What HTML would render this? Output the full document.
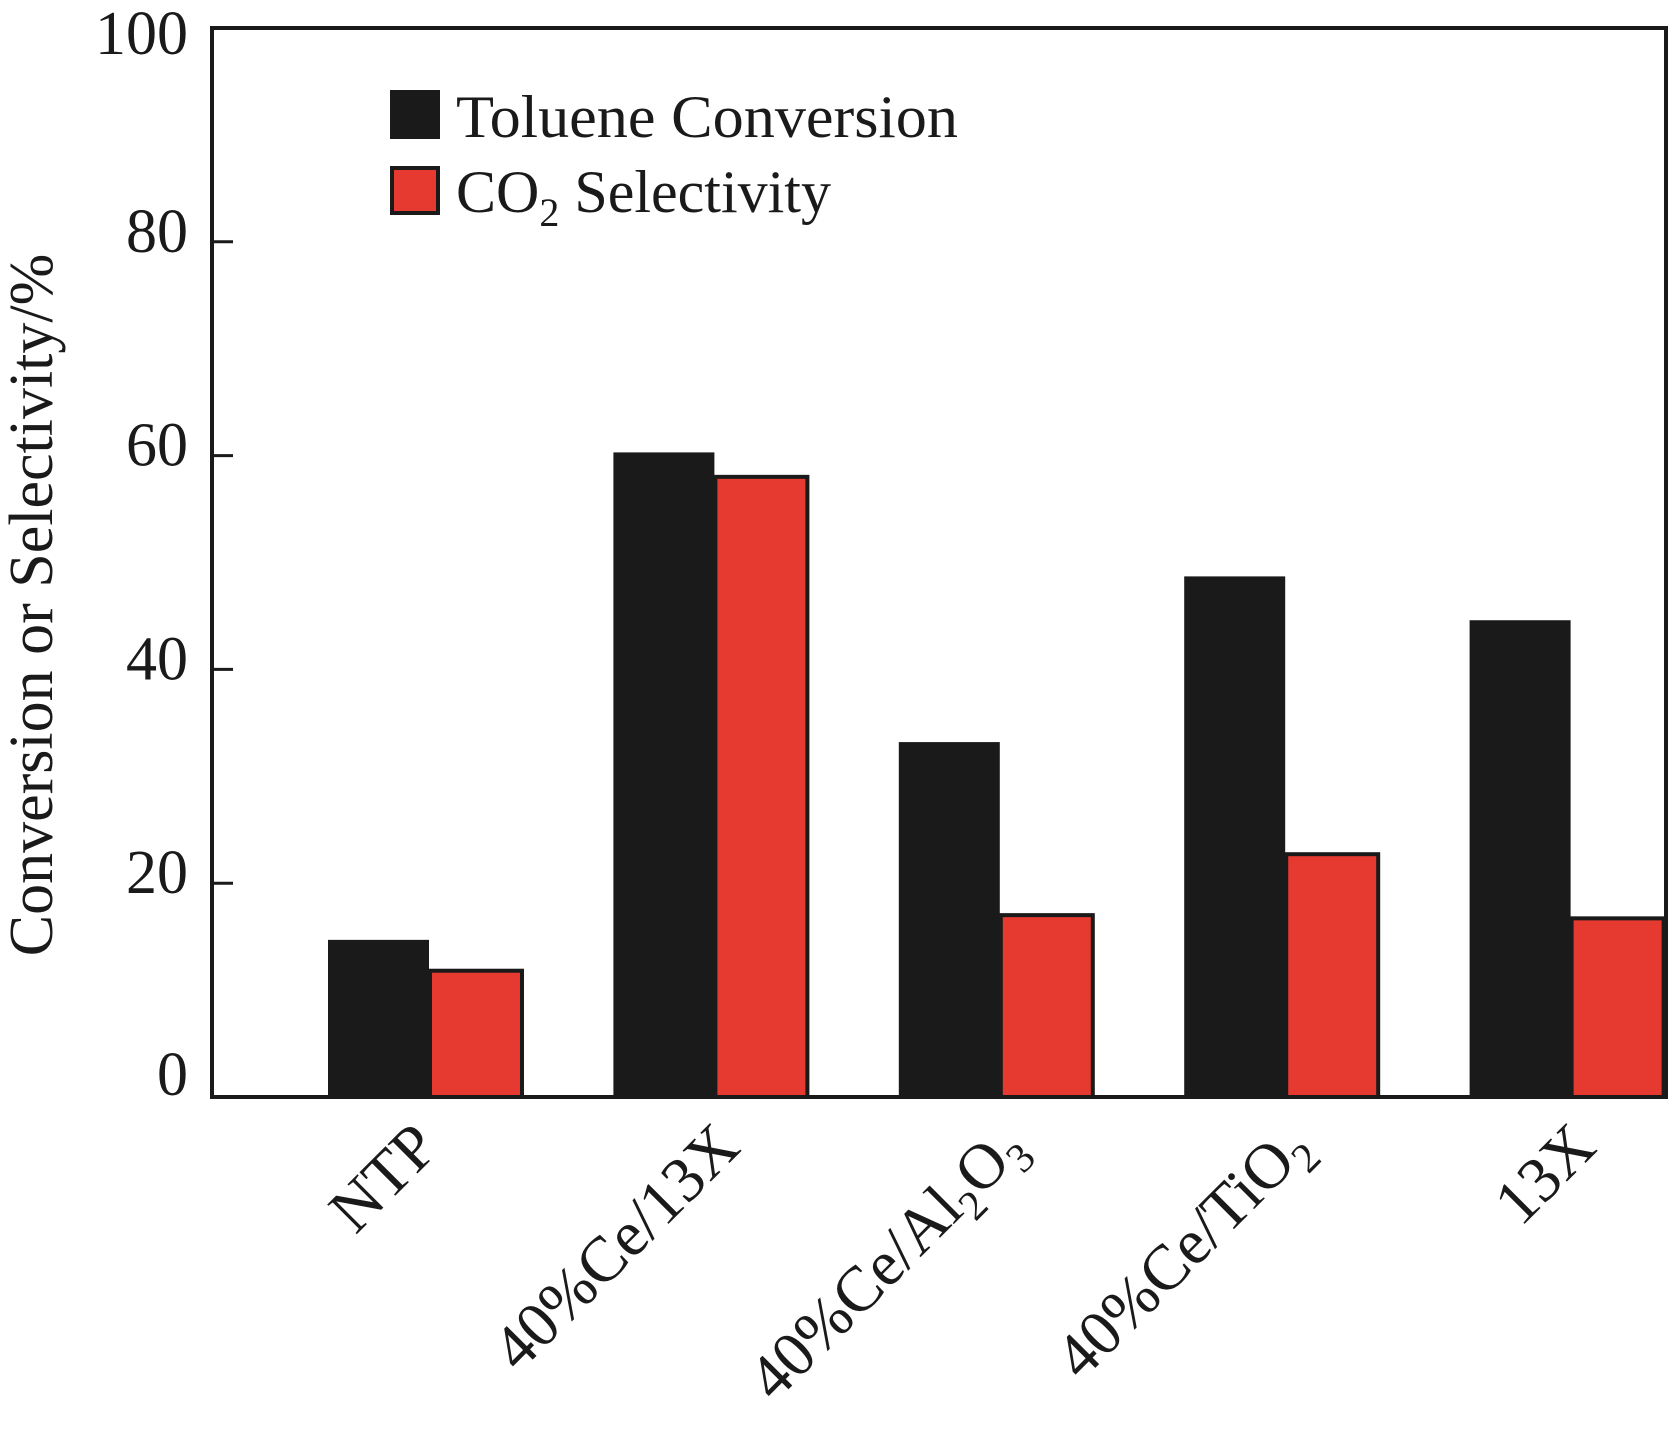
<!DOCTYPE html>
<html><head><meta charset="utf-8"><style>
html,body{margin:0;padding:0;background:#fff;}
svg text{font-family:"Liberation Serif",serif;fill:#1a1a1a;}
</style></head><body>
<svg id="chart" width="1670" height="1424" viewBox="0 0 1670 1424" xmlns="http://www.w3.org/2000/svg">
<g id="bars"></g>
<g id="axes"></g>
<g id="legend">
  <rect x="390" y="90" width="50" height="49" fill="#1a1a1a"/>
  <text x="456" y="137" font-size="60" textLength="502" lengthAdjust="spacingAndGlyphs">Toluene Conversion</text>
  <rect x="392" y="168" width="46" height="45" fill="#e63a31" stroke="#1a1a1a" stroke-width="4"/>
  <text x="456" y="212" font-size="60">CO<tspan font-size="40" dy="14">2</tspan><tspan dy="-14"> Selectivity</tspan></text>
</g>
<text transform="translate(52,605) rotate(-90)" text-anchor="middle" font-size="62">Conversion or Selectivity/%</text>
</svg>
<script>
const categories = ["NTP","40%Ce/13X","40%Ce/Al2O3","40%Ce/TiO2","13X"];
const tolueneConversion = [14.7, 60.3, 33.2, 48.7, 44.6];
const co2Selectivity = [12.0, 58.2, 17.2, 22.9, 16.9];
const yTicks = [0, 20, 40, 60, 80, 100];

const NS = "http://www.w3.org/2000/svg";
const X0 = 212, X1 = 1666, Y0 = 1097, Y1 = 28;
const yScale = v => Y0 - (v / 100) * (Y0 - Y1);
const groupStart = i => 328 + i * 285.4;
const BW = 101, RW = 96;

function mk(tag, attrs, parent) {
  const e = document.createElementNS(NS, tag);
  for (const k in attrs) e.setAttribute(k, attrs[k]);
  parent.appendChild(e);
  return e;
}
const bars = document.getElementById('bars');
const axes = document.getElementById('axes');
const svg = document.getElementById('chart');

categories.forEach((c, i) => {
  const gx = groupStart(i);
  const b = mk('rect', {x: gx, y: yScale(tolueneConversion[i]), width: BW, height: Y0 - yScale(tolueneConversion[i]), fill: '#1a1a1a'}, bars);
  
  
  const r = mk('rect', {x: gx + BW + 1, y: yScale(co2Selectivity[i]) + 2, width: RW - 4, height: Y0 - yScale(co2Selectivity[i]) - 2, fill: '#e63a31', stroke: '#1a1a1a', 'stroke-width': 4}, bars);
  
  
  const cx = gx + BW;
  const dx = i === 0 ? 12 : 28;
  const t = mk('text', {transform: 'translate(' + (cx + dx) + ',1150) rotate(-45)', 'text-anchor': 'end', 'font-size': 64}, svg);
  
  
  if (c.endsWith('Al2O3')) {
    t.innerHTML = '40%Ce/Al<tspan font-size="42" dy="14">2</tspan><tspan dy="-14">O</tspan><tspan font-size="42" dy="14">3</tspan>';
  } else if (c.endsWith('TiO2')) {
    t.innerHTML = '40%Ce/TiO<tspan font-size="42" dy="14">2</tspan>';
  } else {
    t.textContent = c;
  }
});

const frame = mk('rect', {x: X0, y: Y1, width: X1 - X0, height: Y0 - Y1, fill: 'none', stroke: '#1a1a1a', 'stroke-width': 4}, axes);


yTicks.forEach(v => {
  const y = yScale(v);
  if (v > 0 && v < 100) {
    const tk = mk('line', {x1: X0, x2: X0 + 21, y1: y, y2: y, stroke: '#1a1a1a', 'stroke-width': 3}, axes);
    
    
  }
  const lbl = mk('text', {x: 188, y: (v === 0 ? y - 2 : (v === 100 ? y + 26 : y + 10)), 'text-anchor': 'end', 'font-size': 62}, axes);
  
  
  lbl.textContent = v;
});
</script>
</body></html>
